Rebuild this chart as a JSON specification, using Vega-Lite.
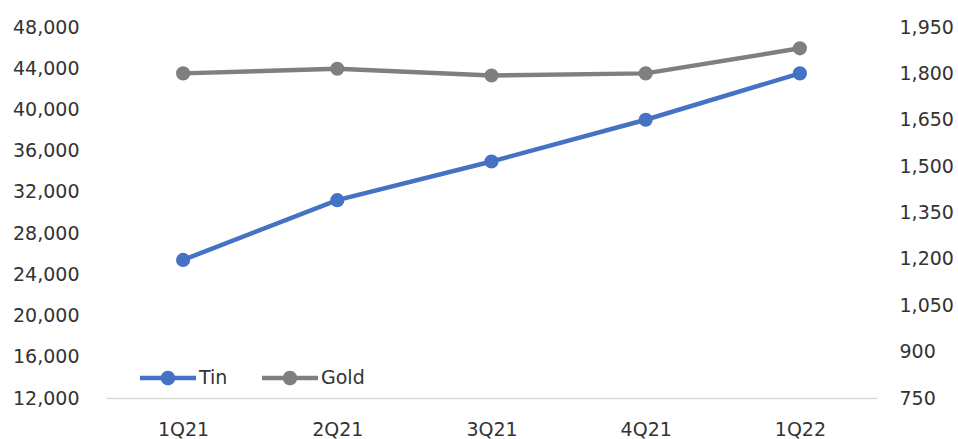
{
  "$schema": "https://vega.github.io/schema/vega-lite/v6.json",
  "width": 771,
  "height": 371,
  "autosize": {"type": "none"},
  "padding": {"left": 106, "top": 27, "right": 81, "bottom": 41},
  "background": "white",
  "config": {
    "view": {"stroke": null},
    "font": "DejaVu Sans",
    "axis": {"labelFont": "DejaVu Sans", "labelFontSize": 19, "labelColor": "#333333", "grid": false, "ticks": false, "title": null}
  },
  "data": {
    "values": [
      {"quarter": "1Q21", "series": "Tin", "value": 25400},
      {"quarter": "2Q21", "series": "Tin", "value": 31200},
      {"quarter": "3Q21", "series": "Tin", "value": 34950},
      {"quarter": "4Q21", "series": "Tin", "value": 39000},
      {"quarter": "1Q22", "series": "Tin", "value": 43500},
      {"quarter": "1Q21", "series": "Gold", "value": 1800},
      {"quarter": "2Q21", "series": "Gold", "value": 1815},
      {"quarter": "3Q21", "series": "Gold", "value": 1793},
      {"quarter": "4Q21", "series": "Gold", "value": 1800},
      {"quarter": "1Q22", "series": "Gold", "value": 1881}
    ]
  },
  "encoding": {
    "x": {
      "field": "quarter", "type": "ordinal", "sort": ["1Q21", "2Q21", "3Q21", "4Q21", "1Q22"],
      "scale": {"type": "point", "padding": 0.5},
      "axis": {"labelAngle": 0, "domainColor": "#d9d9d9", "domainWidth": 1.5, "labelPadding": 22}
    },
    "color": {
      "field": "series", "type": "nominal",
      "scale": {"domain": ["Tin", "Gold"], "range": ["#4472C4", "#7F7F7F"]},
      "legend": {
        "title": null, "orient": "none", "direction": "horizontal",
        "legendX": 34, "legendY": 323,
        "symbolType": "M-1,-0.08 L1,-0.08 L1,0.08 L-1,0.08 Z M0.26,0 A0.26,0.26 0 1,1 -0.26,0 A0.26,0.26 0 1,1 0.26,0 Z",
        "symbolSize": 3136, "symbolStrokeWidth": 0,
        "labelFont": "DejaVu Sans", "labelFontSize": 19, "labelColor": "#333333",
        "labelOffset": 3, "columnPadding": 34,
        "encode": {"symbols": {"update": {"fill": {"scale": "color", "field": "value"}, "fillOpacity": {"value": 1}, "strokeWidth": {"value": 0}}}}
      }
    }
  },
  "layer": [
    {
      "transform": [{"filter": "datum.series === 'Tin'"}],
      "mark": {"type": "line", "strokeWidth": 4.5, "point": {"size": 200, "filled": true, "opacity": 1}},
      "encoding": {
        "y": {
          "field": "value", "type": "quantitative",
          "scale": {"domain": [12000, 48000], "nice": false, "zero": false},
          "axis": {"orient": "left", "values": [12000, 16000, 20000, 24000, 28000, 32000, 36000, 40000, 44000, 48000], "format": ",d", "domain": false, "labelPadding": 27}
        }
      }
    },
    {
      "transform": [{"filter": "datum.series === 'Gold'"}],
      "mark": {"type": "line", "strokeWidth": 4.5, "point": {"size": 200, "filled": true, "opacity": 1}},
      "encoding": {
        "y": {
          "field": "value", "type": "quantitative",
          "scale": {"domain": [750, 1950], "nice": false, "zero": false},
          "axis": {"orient": "right", "values": [750, 900, 1050, 1200, 1350, 1500, 1650, 1800, 1950], "format": ",d", "domain": false, "labelPadding": 22}
        }
      }
    }
  ],
  "resolve": {"scale": {"y": "independent"}}
}
